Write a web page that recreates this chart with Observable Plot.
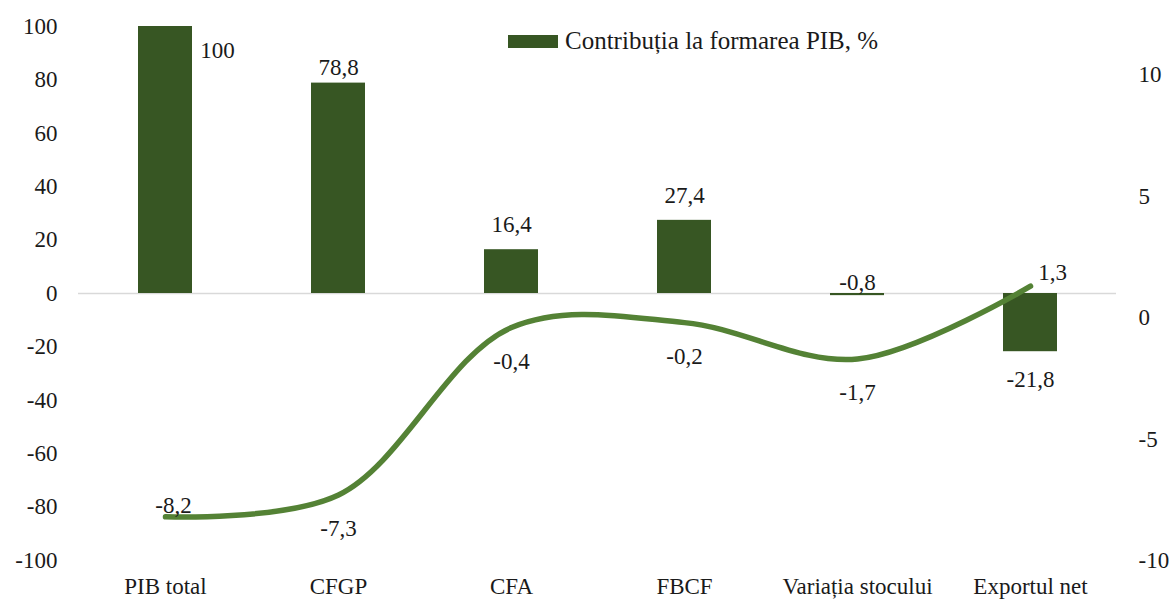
<!DOCTYPE html>
<html>
<head>
<meta charset="utf-8">
<script src="https://cdn.jsdelivr.net/npm/d3@7"></script>
<script src="https://cdn.jsdelivr.net/npm/@observablehq/plot@0.6"></script>
<style>
  html, body { margin: 0; padding: 0; background: #fff; }
  #wrap { position: relative; width: 1174px; height: 601px; }
  #legend { position: absolute; left: 508px; top: 27px; display: flex; align-items: center;
    font-family: "Liberation Serif", serif; font-size: 25px; color: #1a1a1a; }
  #legend .sw { width: 50px; height: 13px; background: #375623; margin-right: 7px; }
</style>
</head>
<body>
<div id="wrap">
  <div id="chart"></div>
  <div id="legend"><span class="sw"></span><span>Contribuția la formarea PIB, %</span></div>
</div>
<script>
const categories = ["PIB total", "CFGP", "CFA", "FBCF", "Variația stocului", "Exportul net"];
const barValues = [100, 78.8, 16.4, 27.4, -0.8, -21.8];
const lineValues = [-8.2, -7.3, -0.4, -0.2, -1.7, 1.3];
const leftTicks = [-100, -80, -60, -40, -20, 0, 20, 40, 60, 80, 100];
const rightTicks = [-10, -5, 0, 5, 10];
const leftDomain = [-100, 100];
const rightDomain = [-10, 12];

const fmt = d => String(d).replace(".", ",");
// map right-axis values into left-axis units
const toLeft = r => leftDomain[0] + (r - rightDomain[0]) * (leftDomain[1] - leftDomain[0]) / (rightDomain[1] - rightDomain[0]);

const bars = categories.map((c, i) => ({cat: c, v: barValues[i], i}));
const line = categories.map((c, i) => ({cat: c, r: lineValues[i], y: toLeft(lineValues[i]), i}));

const font = "Liberation Serif, serif";
const textColor = "#1a1a1a";
const fs = 23;

const chart = Plot.plot({
  width: 1174,
  height: 601,
  marginTop: 26,
  marginBottom: 41,
  marginLeft: 78,
  marginRight: 58,
  style: {fontFamily: font, fontSize: fs + "px", color: textColor, background: "#fff"},
  x: {domain: categories, paddingInner: 0.69, paddingOuter: 0.345, label: null},
  y: {domain: leftDomain, label: null},
  marks: [
    Plot.ruleY([0], {stroke: "#d9d9d9", strokeWidth: 1.5}),
    Plot.barY(bars, {x: "cat", y: "v", fill: "#375623"}),
    Plot.line(line, {x: "cat", y: "y", stroke: "#548235", strokeWidth: 5.5, curve: "catmull-rom", strokeLinecap: "round"}),
    Plot.axisY({ticks: leftTicks, tickSize: 0, tickPadding: 21, tickFormat: d => String(d), fontSize: fs, label: null}),
    Plot.axisY({anchor: "right", ticks: rightTicks.map(toLeft), tickSize: 0, tickPadding: 22,
      tickFormat: (d, i) => String(rightTicks[i]), fontSize: fs, label: null}),
    Plot.axisX({tickSize: 0, tickPadding: 17, fontSize: fs, label: null}),
    // bar labels
    Plot.text(bars.filter(d => d.i === 0), {x: "cat", y: "v", text: d => fmt(d.v), dx: 52, dy: 24, fontSize: fs, fill: textColor}),
    Plot.text(bars.filter(d => d.i === 1), {x: "cat", y: "v", text: d => fmt(d.v), dy: -15, fontSize: fs, fill: textColor}),
    Plot.text(bars.filter(d => d.i === 2 || d.i === 3), {x: "cat", y: "v", text: d => fmt(d.v), dy: -25, fontSize: fs, fill: textColor}),
    Plot.text(bars.filter(d => d.i === 4), {x: "cat", y: 0, text: d => fmt(d.v), dy: -11, fontSize: fs, fill: textColor}),
    Plot.text(bars.filter(d => d.i === 5), {x: "cat", y: "v", text: d => fmt(d.v), dy: 28, fontSize: fs, fill: textColor}),
    // line labels
    Plot.text(line.filter(d => d.i === 0), {x: "cat", y: "y", text: d => fmt(d.r), dx: 8, dy: -11, fontSize: fs, fill: textColor}),
    Plot.text(line.filter(d => d.i >= 1 && d.i <= 4), {x: "cat", y: "y", text: d => fmt(d.r), dy: 34, fontSize: fs, fill: textColor}),
    Plot.text(line.filter(d => d.i === 5), {x: "cat", y: "y", text: d => fmt(d.r), dx: 22, dy: -14, fontSize: fs, fill: textColor})
  ]
});
document.getElementById("chart").appendChild(chart);
</script>
</body>
</html>
